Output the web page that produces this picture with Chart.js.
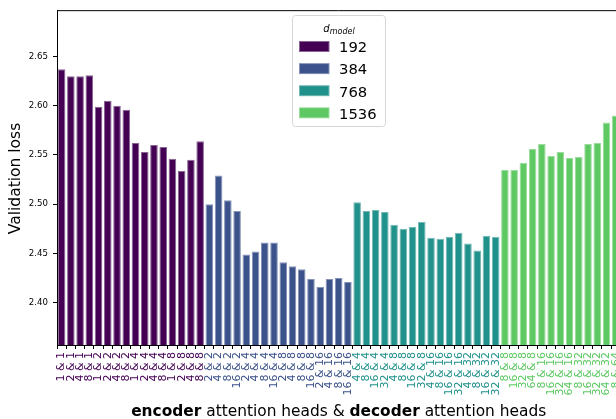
<!DOCTYPE html>
<html><head><meta charset="utf-8">
<script src="https://cdn.jsdelivr.net/npm/chart.js@4/dist/chart.umd.min.js"></script>
<style>html,body{margin:0;padding:0;background:#fff;overflow:hidden;width:616px;height:419px}canvas{display:block}</style>
</head><body>
<canvas id="c" width="632" height="419"></canvas>
<script>
// ---- data ----
const groupNames = ["192", "384", "768", "1536"];
const labels192 = ["1 & 1","2 & 1","4 & 1","8 & 1","1 & 2","2 & 2","4 & 2","8 & 2","1 & 4","2 & 4","4 & 4","8 & 4","1 & 8","2 & 8","4 & 8","8 & 8"];
const labels384 = ["2 & 2","4 & 2","8 & 2","16 & 2","2 & 4","4 & 4","8 & 4","16 & 4","2 & 8","4 & 8","8 & 8","16 & 8","2 & 16","4 & 16","8 & 16","16 & 16"];
const labels768 = ["4 & 4","8 & 4","16 & 4","32 & 4","4 & 8","8 & 8","16 & 8","32 & 8","4 & 16","8 & 16","16 & 16","32 & 16","4 & 32","8 & 32","16 & 32","32 & 32"];
const labels1536 = ["8 & 8","16 & 8","32 & 8","64 & 8","8 & 16","16 & 16","32 & 16","64 & 16","8 & 32","16 & 32","32 & 32","64 & 32","8 & 64"];
const values192 = [2.637, 2.630, 2.630, 2.631, 2.599, 2.605, 2.600, 2.596, 2.562, 2.553, 2.560, 2.558, 2.546, 2.534, 2.545, 2.564];
const values384 = [2.500, 2.529, 2.504, 2.493, 2.449, 2.452, 2.461, 2.461, 2.441, 2.437, 2.434, 2.424, 2.416, 2.424, 2.425, 2.421];
const values768 = [2.502, 2.493, 2.494, 2.492, 2.479, 2.475, 2.477, 2.482, 2.466, 2.465, 2.467, 2.471, 2.460, 2.453, 2.468, 2.467];
const values1536 = [2.535, 2.535, 2.542, 2.556, 2.561, 2.549, 2.553, 2.547, 2.548, 2.561, 2.562, 2.583, 2.590];
const yTicks = [2.40, 2.45, 2.50, 2.55, 2.60, 2.65];
const yTitle = "Validation loss";
const xTitleParts = [["encoder", true], [" attention heads & ", false], ["decoder", true], [" attention heads", false]];
const legendTitleBase = "d";
const legendTitleSub = "model";

// ---- styles ----
const COLORS = ['#440154', '#3b528b', '#21918c', '#5ec962'];
const EDGES = ['#8a6594', '#8593b7', '#74b9b6', '#9bdc9e'];
const FONT = "'DejaVu Sans', sans-serif";

const groupLabels = [labels192, labels384, labels768, labels1536];
const groupValues = [values192, values384, values768, values1536];
const labels = [].concat(...groupLabels);
const groupOf = [];
groupLabels.forEach((l, g) => l.forEach(() => groupOf.push(g)));

let offset = 0;
const datasets = groupValues.map((vals, g) => {
  const data = new Array(labels.length).fill(null);
  vals.forEach((v, i) => { data[offset + i] = v; });
  offset += vals.length;
  return {
    label: groupNames[g], data,
    backgroundColor: COLORS[g], borderColor: EDGES[g], borderWidth: 1,
    barPercentage: 0.82, categoryPercentage: 1, grouped: false
  };
});

const decor = {
  id: 'decor',
  afterDraw(chart) {
    const ctx = chart.ctx, a = chart.chartArea;
    ctx.save();
    // top & right spines
    ctx.strokeStyle = '#000'; ctx.lineWidth = 1;
    ctx.beginPath();
    ctx.moveTo(a.left, a.top + 0.5); ctx.lineTo(a.right, a.top + 0.5);
    ctx.moveTo(a.right - 0.5, a.top); ctx.lineTo(a.right - 0.5, a.bottom);
    ctx.stroke();
    // y title
    ctx.fillStyle = '#000';
    ctx.save();
    ctx.translate(20.3, 178.5);
    ctx.rotate(-Math.PI / 2);
    ctx.font = "15.5px " + FONT;
    ctx.textAlign = 'center'; ctx.textBaseline = 'alphabetic';
    ctx.fillText(yTitle, 0, 0);
    ctx.restore();
    // x title
    let total = 0;
    const fonts = xTitleParts.map(p => (p[1] ? "bold " : "") + "15.4px " + FONT);
    xTitleParts.forEach((p, i) => { ctx.font = fonts[i]; total += ctx.measureText(p[0]).width; });
    let x = (a.left + a.right) / 2 - total / 2;
    ctx.textAlign = 'left'; ctx.textBaseline = 'alphabetic';
    xTitleParts.forEach((p, i) => { ctx.font = fonts[i]; ctx.fillText(p[0], x, 415.5); x += ctx.measureText(p[0]).width; });
    // legend
    const bx = 292.5, by = 15.5, bw = 93, bh = 111, r = 3;
    ctx.beginPath();
    ctx.moveTo(bx + r, by); ctx.lineTo(bx + bw - r, by); ctx.arcTo(bx + bw, by, bx + bw, by + r, r);
    ctx.lineTo(bx + bw, by + bh - r); ctx.arcTo(bx + bw, by + bh, bx + bw - r, by + bh, r);
    ctx.lineTo(bx + r, by + bh); ctx.arcTo(bx, by + bh, bx, by + bh - r, r);
    ctx.lineTo(bx, by + r); ctx.arcTo(bx, by, bx + r, by, r);
    ctx.closePath();
    ctx.fillStyle = 'rgba(255,255,255,0.8)'; ctx.fill();
    ctx.strokeStyle = '#d6d6d6'; ctx.lineWidth = 1; ctx.stroke();
    // legend title
    ctx.fillStyle = '#000';
    ctx.font = "italic 10px " + FONT;
    const dw = ctx.measureText(legendTitleBase).width;
    ctx.font = "italic 8px " + FONT;
    const mw = ctx.measureText(legendTitleSub).width;
    const tx = bx + bw / 2 - (dw + mw) / 2;
    ctx.font = "italic 10px " + FONT; ctx.fillText(legendTitleBase, tx, 32);
    ctx.font = "italic 8px " + FONT; ctx.fillText(legendTitleSub, tx + dw, 34);
    // entries
    ctx.font = "14.8px " + FONT;
    groupNames.forEach((n, g) => {
      const cy = 46.5 + g * 22.1;
      ctx.fillStyle = EDGES[g]; ctx.fillRect(299, cy - 5.5, 30.5, 11);
      ctx.fillStyle = COLORS[g]; ctx.fillRect(300, cy - 4.5, 28.5, 9);
      ctx.fillStyle = '#000'; ctx.fillText(n, 339, cy + 5.8);
    });
    ctx.restore();
  }
};

new Chart(document.getElementById('c'), {
  type: 'bar',
  data: { labels, datasets },
  options: {
    responsive: false, animation: false, devicePixelRatio: 1,
    layout: { padding: { top: 7, right: 8, left: 0, bottom: 0 } },
    plugins: { legend: { display: false }, tooltip: { enabled: false } },
    scales: {
      x: {
        grid: { drawOnChartArea: false, drawTicks: true, tickLength: 4, color: '#000' },
        border: { display: true, color: '#000', width: 1 },
        ticks: {
          autoSkip: false, maxRotation: 90, minRotation: 90, padding: 3,
          font: { family: FONT, size: 11 },
          color: (c) => COLORS[groupOf[c.index]] || '#000'
        },
        afterFit: (s) => { s.height = 74; }
      },
      y: {
        min: 2.357, max: 2.697,
        grid: { drawOnChartArea: false, drawTicks: true, tickLength: 4, color: '#000' },
        border: { display: true, color: '#000', width: 1 },
        afterBuildTicks: (s) => { s.ticks = yTicks.map(v => ({ value: v })); },
        ticks: { padding: 5, color: '#000', font: { family: FONT, size: 8.6 }, callback: (v) => Number(v).toFixed(2) },
        afterFit: (s) => { s.width = 57; }
      }
    }
  },
  plugins: [decor]
});
</script>
</body></html>
